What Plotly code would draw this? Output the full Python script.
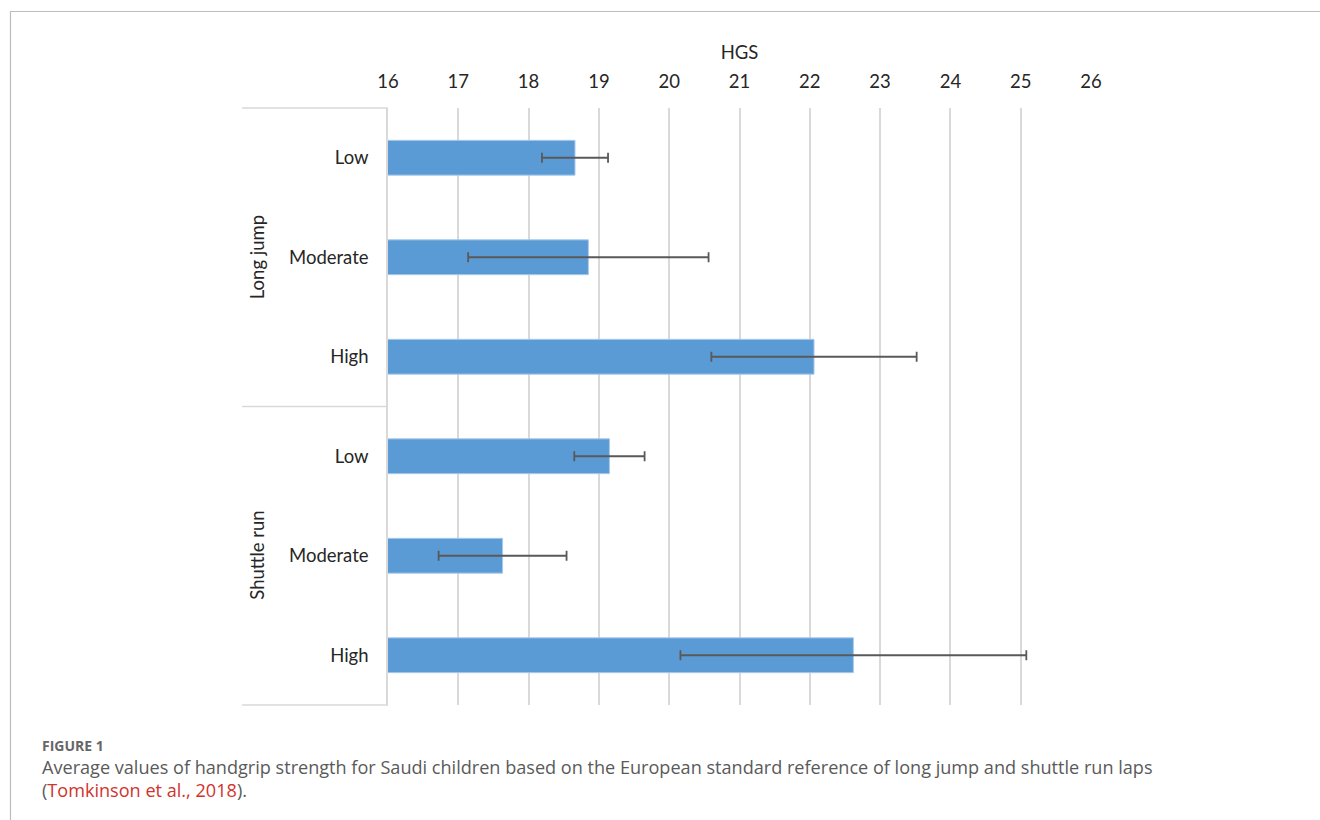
import plotly.graph_objects as go

# ---- data ----
groups = ["Long jump", "Long jump", "Long jump", "Shuttle run", "Shuttle run", "Shuttle run"]
levels = ["Low", "Moderate", "High", "Low", "Moderate", "High"]
hgs_mean = [18.66, 18.85, 22.06, 19.15, 17.63, 22.62]
hgs_err = [0.47, 1.71, 1.46, 0.50, 0.91, 2.46]
x_ticks = list(range(16, 27))

W, H = 1320, 820
L, R, T, B = 388, 1091, 108, 705
pw, ph = R - L, B - T


def px(x):
    return (x - L) / pw


def py(y):
    return (B - y) / ph


cats = [f"{g}|{l}" for g, l in zip(groups, levels)]

fig = go.Figure()
fig.add_trace(go.Bar(
    y=cats, x=hgs_mean, orientation="h",
    marker=dict(color="#5B9BD5", line=dict(color="#A9C9EC", width=1)),
    error_x=dict(type="data", array=hgs_err, visible=True,
                 color="#595959", thickness=1.8, width=5),
    showlegend=False, hoverinfo="x+y",
))

font_main = "Lato, Carlito, Calibri, sans-serif"

fig.update_layout(
    width=W, height=H,
    margin=dict(l=L, r=W - R, t=T, b=H - B, pad=0),
    paper_bgcolor="white", plot_bgcolor="white",
    bargap=0.65,
    font=dict(family=font_main, size=18, color="#262626"),
    xaxis=dict(
        side="top", range=[16, 26], tickvals=x_ticks,
        showgrid=True, gridcolor="#D9D9D9", gridwidth=1.5,
        zeroline=False, showline=False, ticks="",
        ticklabelstandoff=15,
        tickfont=dict(size=18.5, color="#262626"),
        title=dict(text="HGS", font=dict(size=18.5, color="#262626"), standoff=5),
    ),
    yaxis=dict(
        type="category", categoryorder="array", categoryarray=cats,
        autorange="reversed",
        tickvals=cats, ticktext=levels,
        showgrid=False, zeroline=False,
        showline=True, linecolor="#D9D9D9", linewidth=1.5,
        ticks="", ticklabelstandoff=14,
        tickfont=dict(size=18.5, color="#262626"),
    ),
)

# group separators
for yy in [T, (T + B) / 2, B]:
    fig.add_shape(type="line", xref="paper", yref="paper",
                  x0=px(242), x1=px(388), y0=py(yy), y1=py(yy),
                  line=dict(color="#D9D9D9", width=1.5))

# group labels
grp_names = ["Long jump", "Shuttle run"]
for i, g in enumerate(grp_names):
    fig.add_annotation(xref="paper", yref="paper", x=px(257), y=0.75 - 0.5 * i,
                       text=g, textangle=-90, showarrow=False,
                       font=dict(size=18.5, color="#262626", family=font_main),
                       xanchor="center", yanchor="middle")

# outer frame
fig.add_shape(type="rect", xref="paper", yref="paper",
              x0=px(10.5), x1=px(1340), y0=py(11.5), y1=py(840),
              line=dict(color="#BDBDBD", width=1.2), layer="below")

cap_font = "Open Sans, Noto Sans, sans-serif"
fig.add_annotation(xref="paper", yref="paper", x=px(40), y=py(745),
                   text="<b>FIGURE 1</b>", showarrow=False,
                   xanchor="left", yanchor="middle",
                   font=dict(size=14, color="#666666", family=cap_font))
fig.add_annotation(xref="paper", yref="paper", x=px(40), y=py(767),
                   text="Average values of handgrip strength for Saudi children based on the European standard reference of long jump and shuttle run laps",
                   showarrow=False, xanchor="left", yanchor="middle",
                   font=dict(size=18.1, color="#5A5A5A", family=cap_font))
fig.add_annotation(xref="paper", yref="paper", x=px(40), y=py(790),
                   text="(<span style='color:#D0342C'>Tomkinson et al., 2018</span>).",
                   showarrow=False, xanchor="left", yanchor="middle",
                   font=dict(size=18.1, color="#5A5A5A", family=cap_font))

fig.write_html("out.html")
